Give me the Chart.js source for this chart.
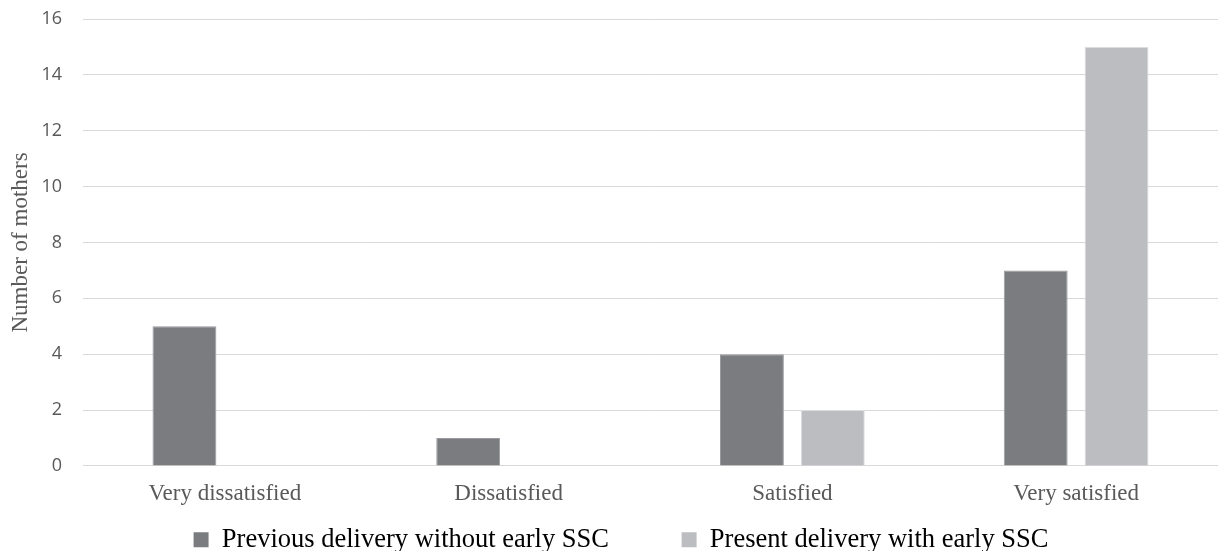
<!DOCTYPE html>
<html>
<head>
<meta charset="utf-8">
<script src="https://cdn.jsdelivr.net/npm/chart.js@4.4.1/dist/chart.umd.min.js"></script>
<style>
  html, body { margin: 0; padding: 0; background: #ffffff; }
  #wrap { width: 1218px; height: 551px; }
</style>
</head>
<body>
<div id="wrap"><canvas id="chart" width="1218" height="551"></canvas></div>
<script>
// Satisfaction categories and counts of mothers per delivery
const categories = ["Very dissatisfied", "Dissatisfied", "Satisfied", "Very satisfied"];
const previousDelivery = [5, 1, 4, 7];
const presentDelivery = [0, 0, 2, 15];
const seriesNames = ["Previous delivery without early SSC", "Present delivery with early SSC"];
const yTicks = [0, 2, 4, 6, 8, 10, 12, 14, 16];

const serif = "'Liberation Serif', 'Times New Roman', serif";
const sans = "'Open Sans', 'Liberation Sans', sans-serif";
const leftPad = 20;
const axisWidth = 63;

new Chart(document.getElementById("chart"), {
  type: "bar",
  data: {
    labels: categories,
    datasets: [
      {
        label: seriesNames[0],
        data: previousDelivery,
        backgroundColor: "#7b7c80",
        borderColor: "#9a9ba0",
        borderWidth: 1,
        categoryPercentage: 0.57,
        barPercentage: 0.79
      },
      {
        label: seriesNames[1],
        data: presentDelivery,
        backgroundColor: "#bcbdc1",
        borderColor: "#dcdde0",
        borderWidth: 1,
        categoryPercentage: 0.57,
        barPercentage: 0.79
      }
    ]
  },
  options: {
    responsive: false,
    animation: false,
    layout: { padding: { left: leftPad, right: -4, top: 19, bottom: -12 } },
    plugins: {
      tooltip: { enabled: false },
      legend: {
        position: "bottom",
        labels: {
          font: { family: serif, size: 26.5 },
          color: "#595959",
          boxWidth: 15,
          boxHeight: 15,
          padding: 13,
          generateLabels(chart) {
            return chart.data.datasets.map((ds, i) => ({
              // extra spacing after the first entry separates the two items
              text: i === 0 ? ds.label + "\u00a0".repeat(9) : ds.label,
              fillStyle: ds.backgroundColor,
              strokeStyle: ds.backgroundColor,
              lineWidth: 0,
              hidden: false,
              datasetIndex: i
            }));
          }
        }
      }
    },
    scales: {
      x: {
        grid: { display: false },
        border: { display: true, color: "#d9d9d9", width: 1 },
        ticks: {
          font: { family: serif, size: 23 },
          color: "#595959",
          padding: 6,
          maxRotation: 0
        }
      },
      y: {
        min: 0,
        max: 16,
        afterBuildTicks(axis) {
          axis.ticks = yTicks.map(v => ({ value: v }));
        },
        afterFit(axis) {
          axis.width = axisWidth;
          axis.paddingTop = 0;
          axis.paddingBottom = 0;
        },
        grid: { color: "#d9d9d9", lineWidth: 1, drawTicks: false },
        border: { display: false },
        ticks: {
          font: { family: sans, size: 18 },
          color: "#595959",
          padding: 21
        },
        title: {
          display: true,
          text: "Number of mothers",
          font: { family: serif, size: 23, lineHeight: 0.1 },
          color: "#595959",
          padding: { top: 0, bottom: 0 }
        }
      }
    }
  }
});
</script>
</body>
</html>
